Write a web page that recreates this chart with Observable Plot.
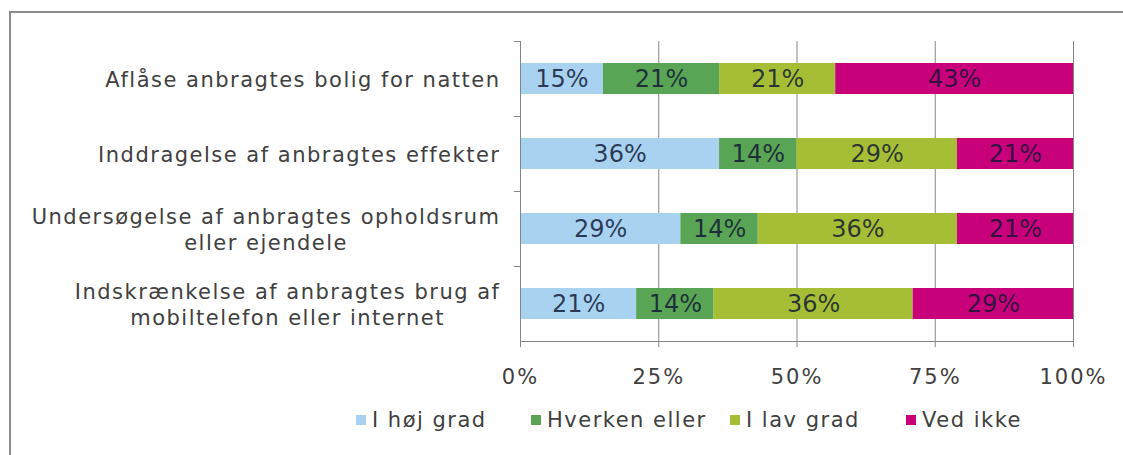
<!DOCTYPE html>
<html>
<head>
<meta charset="utf-8">
<script src="https://cdn.jsdelivr.net/npm/d3@7"></script>
<script src="https://cdn.jsdelivr.net/npm/@observablehq/plot@0.6"></script>
<style>
  html, body { margin: 0; padding: 0; background: #fff; }
  body { width: 1123px; height: 455px; position: relative; overflow: hidden; font-family: "DejaVu Sans", Verdana, sans-serif; }
  #border { position: absolute; left: 9px; top: 11px; width: 1200px; height: 500px; border-left: 2px solid #8c8c8c; border-top: 2px solid #8c8c8c; }
  #chart { position: absolute; left: 0; top: 0; }
  #legend { position: absolute; left: 0; top: 408px; width: 1123px; height: 30px; font-size: 21px; letter-spacing: 1.5px; color: #404040; white-space: nowrap; }
  #legend .item { position: absolute; top: 0; display: flex; align-items: center; }
  #legend .sw { width: 10px; height: 10px; margin-right: 6px; }
</style>
</head>
<body>
<div id="border"></div>
<div id="chart"></div>
<div id="legend"></div>
<script>
const categories = [
  "Aflåse anbragtes bolig for natten",
  "Inddragelse af anbragtes effekter",
  "Undersøgelse af anbragtes opholdsrum\neller ejendele",
  "Indskrænkelse af anbragtes brug af\nmobiltelefon eller internet"
];
const series = ["I høj grad", "Hverken eller", "I lav grad", "Ved ikke"];
const hoejGrad = [15, 36, 29, 21];
const hverkenEller = [21, 14, 14, 14];
const lavGrad = [21, 29, 36, 36];
const vedIkke = [43, 21, 21, 29];
const colors = ["#a8d2f0", "#5aa455", "#a6be35", "#c8007a"];
const xTicks = [0, 0.25, 0.5, 0.75, 1];

const seriesValues = [hoejGrad, hverkenEller, lavGrad, vedIkke];
const rows = [];
categories.forEach((c, i) => {
  series.forEach((s, j) => rows.push({cat: c, series: s, value: seriesValues[j][i] / 100}));
});

const W = 1123, H = 395;
const mTop = 41, mBottom = 54, mLeft = 520, mRight = 50;
const step = (H - mTop - mBottom) / categories.length;
const tickLen = 6 / (W - mLeft - mRight);
const axisColor = "#868686";

const plot = Plot.plot({
  width: W,
  height: H,
  marginTop: mTop,
  marginBottom: mBottom,
  marginLeft: mLeft,
  marginRight: mRight,
  style: {fontFamily: "'DejaVu Sans', Verdana, sans-serif", fontSize: "20px", color: "#404040", background: "transparent"},
  x: {domain: [0, 1]},
  y: {domain: categories, padding: 0},
  color: {domain: series, range: colors},
  marks: [
    Plot.gridX([0.25, 0.5, 0.75, 1], {stroke: axisColor, strokeOpacity: 1}),
    Plot.barX(rows, Plot.stackX({x: "value", y: "cat", fill: "series", insetTop: 22, insetBottom: 22})),
    Plot.text(rows, Plot.stackX({x: "value", y: "cat", text: d => Math.round(d.value * 100) + "%", fill: "#0e1533", fillOpacity: 0.82, fontSize: 24, ariaLabel: "bar-label"})),
    Plot.ruleX([0], {stroke: axisColor}),
    Plot.ruleY(categories, {y: d => d, x1: -tickLen, x2: 0, dy: -step / 2, stroke: axisColor}),
    Plot.ruleY([categories[categories.length - 1]], {y: d => d, x1: 0, x2: 1, dy: step / 2, stroke: axisColor}),
    Plot.axisX({ticks: xTicks, tickFormat: d3.format(".0%"), tickSize: 6, tickPadding: 22, stroke: axisColor, fill: "#404040", fontSize: 21, label: null}),
    Plot.axisY({tickSize: 0, tickPadding: 20, fill: "#404040", fontSize: 21, label: null, lineHeight: 1.2})
  ]
});
document.getElementById("chart").appendChild(plot);

const setSpacing = (sel, v) => plot.querySelectorAll(sel).forEach(g => g.style.letterSpacing = v);
setSpacing('g[aria-label="bar-label"]', "1px");
setSpacing('g[aria-label="x-axis tick label"]', "2px");
setSpacing('g[aria-label="y-axis tick label"]', "1.5px");

// center multi-line category labels within their block (right-aligned block)
plot.querySelectorAll('g[aria-label="y-axis tick label"] text').forEach(t => {
  const spans = t.querySelectorAll("tspan");
  if (spans.length > 1) {
    let maxW = 0;
    spans.forEach(s => { maxW = Math.max(maxW, s.getComputedTextLength()); });
    t.setAttribute("text-anchor", "middle");
    spans.forEach(s => s.setAttribute("x", -maxW / 2));
  }
});

const legendX = [356, 531, 730, 906];
const legend = document.getElementById("legend");
series.forEach((s, i) => {
  const item = document.createElement("div");
  item.className = "item";
  item.style.left = legendX[i] + "px";
  const sw = document.createElement("span");
  sw.className = "sw";
  sw.style.background = colors[i];
  const label = document.createElement("span");
  label.textContent = s;
  item.appendChild(sw);
  item.appendChild(label);
  legend.appendChild(item);
});
</script>
</body>
</html>
